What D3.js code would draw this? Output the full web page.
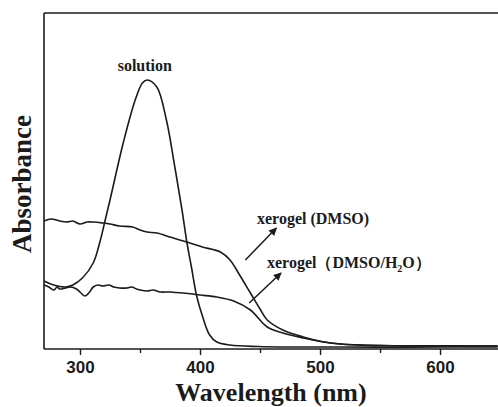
<!DOCTYPE html>
<html>
<head>
<meta charset="utf-8">
<script src="https://cdn.jsdelivr.net/npm/d3@7"></script>
<style>
html,body{margin:0;padding:0;background:#fff;}
svg{display:block;}
</style>
</head>
<body>
<svg id="chart" width="498" height="407"></svg>
<script>
// ---- data ----
const solutionWl  = [270, 278, 288, 294, 302, 311, 317, 321, 325, 336, 346, 352, 356, 364, 372, 379, 385, 389, 393, 397, 402, 408, 414, 425, 448, 480, 520, 560, 600, 648];
const solutionAbs = [0.68,0.64,0.62,0.64,0.71,0.86,1.09,1.29,1.49,2.06,2.49,2.66,2.69,2.62,2.29,1.82,1.39,1.07,0.81,0.54,0.33,0.14,0.07,0.04,0.025,0.02,0.02,0.018,0.02,0.02];

const dmsoWl  = [270, 276, 283, 289, 294, 300, 306, 311, 319, 325, 333, 344, 350, 356, 364, 375, 389, 402, 417, 425, 433, 442, 450, 456, 469, 486, 502, 517, 550, 583, 648];
const dmsoAbs = [1.28,1.30,1.28,1.27,1.28,1.25,1.27,1.27,1.26,1.25,1.23,1.22,1.19,1.17,1.16,1.12,1.07,1.02,0.97,0.89,0.74,0.56,0.40,0.29,0.19,0.12,0.073,0.05,0.035,0.032,0.03];

const waterWl  = [270, 274, 278, 281, 283, 288, 292, 297, 300, 304, 308, 311, 315, 319, 324, 328, 333, 339, 343, 347, 350, 356, 361, 367, 375, 386, 400, 414, 428, 442, 456, 469, 486, 502, 517, 550, 648];
const waterAbs = [0.64,0.62,0.59,0.62,0.60,0.61,0.62,0.60,0.57,0.53,0.57,0.62,0.64,0.63,0.64,0.62,0.61,0.61,0.62,0.60,0.59,0.58,0.59,0.57,0.57,0.56,0.54,0.52,0.48,0.39,0.22,0.16,0.11,0.073,0.05,0.035,0.03];

const majorTicks = [300, 400, 500, 600];
const minorTicks = [350, 450, 550];

const labels = [
  {text: "solution", wl: 354, abs: 2.78, anchor: "middle"},
  {text: "xerogel (DMSO)", wl: 447.5, abs: 1.25, anchor: "start"},
  {text: "xerogel（DMSO/H", sub: "2", tail: "O）", wl: 455.8, abs: 0.81, anchor: "start"}
];
const arrows = [
  {x1: 437.8, y1: 0.89, x2: 463.6, y2: 1.21},
  {x1: 441.0, y1: 0.46, x2: 467.5, y2: 0.76}
];

// ---- layout ----
const svg = d3.select("#chart");
const mLeft = 44, mRight = 498, mTop = 13, mBottom = 349;
const x = d3.scaleLinear().domain([270, 648.3]).range([mLeft, mRight]);
const y = d3.scaleLinear().domain([0, 3.36]).range([mBottom, mTop]);
const ink = "#1b1b1b";

const defs = svg.append("defs");
defs.append("marker").attr("id", "arr").attr("viewBox", "0 0 10 10")
  .attr("refX", 9).attr("refY", 5).attr("markerWidth", 9).attr("markerHeight", 8)
  .attr("markerUnits", "userSpaceOnUse").attr("orient", "auto")
  .append("path").attr("d", "M0,0 L10,5 L0,10 Z").attr("fill", ink);

// frame
svg.append("line").attr("x1", mLeft).attr("x2", mLeft).attr("y1", mTop).attr("y2", mBottom)
  .attr("stroke", ink).attr("stroke-width", 1.6);
svg.append("line").attr("x1", mLeft).attr("x2", mRight).attr("y1", mTop).attr("y2", mTop)
  .attr("stroke", ink).attr("stroke-width", 1.6);
svg.append("line").attr("x1", mLeft).attr("x2", mRight).attr("y1", mBottom).attr("y2", mBottom)
  .attr("stroke", ink).attr("stroke-width", 1.6);

// axes
const gx = svg.append("g").attr("transform", `translate(0,${mBottom})`)
  .call(d3.axisBottom(x).tickValues(majorTicks).tickSize(6).tickPadding(6).tickFormat(d3.format("d")));
gx.select(".domain").remove();
gx.selectAll("line").attr("stroke", ink).attr("stroke-width", 1.4);
gx.selectAll("text").attr("font-family", "'Liberation Sans', Arial, sans-serif")
  .attr("font-weight", "bold").attr("font-size", 17).attr("fill", ink);

const gm = svg.append("g").attr("transform", `translate(0,${mBottom})`)
  .call(d3.axisBottom(x).tickValues(minorTicks).tickSize(4).tickFormat(""));
gm.select(".domain").remove();
gm.selectAll("line").attr("stroke", ink).attr("stroke-width", 1.4);

// axis titles
svg.append("text").attr("x", (mLeft + mRight) / 2).attr("y", 401)
  .attr("text-anchor", "middle")
  .attr("font-family", "'Liberation Serif', 'Times New Roman', serif")
  .attr("font-weight", "bold").attr("font-size", 26).attr("fill", ink)
  .text("Wavelength (nm)");
svg.append("text").attr("transform", "translate(31,184) rotate(-90)")
  .attr("text-anchor", "middle")
  .attr("font-family", "'Liberation Serif', 'Times New Roman', serif")
  .attr("font-weight", "bold").attr("font-size", 27).attr("fill", ink)
  .text("Absorbance");

// curves
const line = d3.line().x(d => x(d[0])).y(d => y(d[1])).curve(d3.curveCatmullRom.alpha(0.5));
const series = [
  d3.zip(solutionWl, solutionAbs),
  d3.zip(dmsoWl, dmsoAbs),
  d3.zip(waterWl, waterAbs)
];
svg.append("g").selectAll("path").data(series).join("path")
  .attr("d", line).attr("fill", "none").attr("stroke", ink).attr("stroke-width", 1.6);

// arrows
svg.selectAll(".arrow").data(arrows).join("line").attr("class", "arrow")
  .attr("x1", d => x(d.x1)).attr("y1", d => y(d.y1))
  .attr("x2", d => x(d.x2)).attr("y2", d => y(d.y2))
  .attr("stroke", ink).attr("stroke-width", 1.5).attr("marker-end", "url(#arr)");

// labels
const lab = svg.selectAll(".lab").data(labels).join("text").attr("class", "lab")
  .attr("x", d => x(d.wl)).attr("y", d => y(d.abs))
  .attr("text-anchor", d => d.anchor)
  .attr("font-family", "'Liberation Serif', 'Times New Roman', serif")
  .attr("font-weight", "bold").attr("font-size", 16).attr("fill", ink);
lab.each(function(d) {
  const t = d3.select(this);
  t.append("tspan").text(d.text);
  if (d.sub) {
    t.append("tspan").attr("dy", 4).attr("font-size", 10).text(d.sub);
    t.append("tspan").attr("dy", -4).text(d.tail);
  }
});
</script>
</body>
</html>
